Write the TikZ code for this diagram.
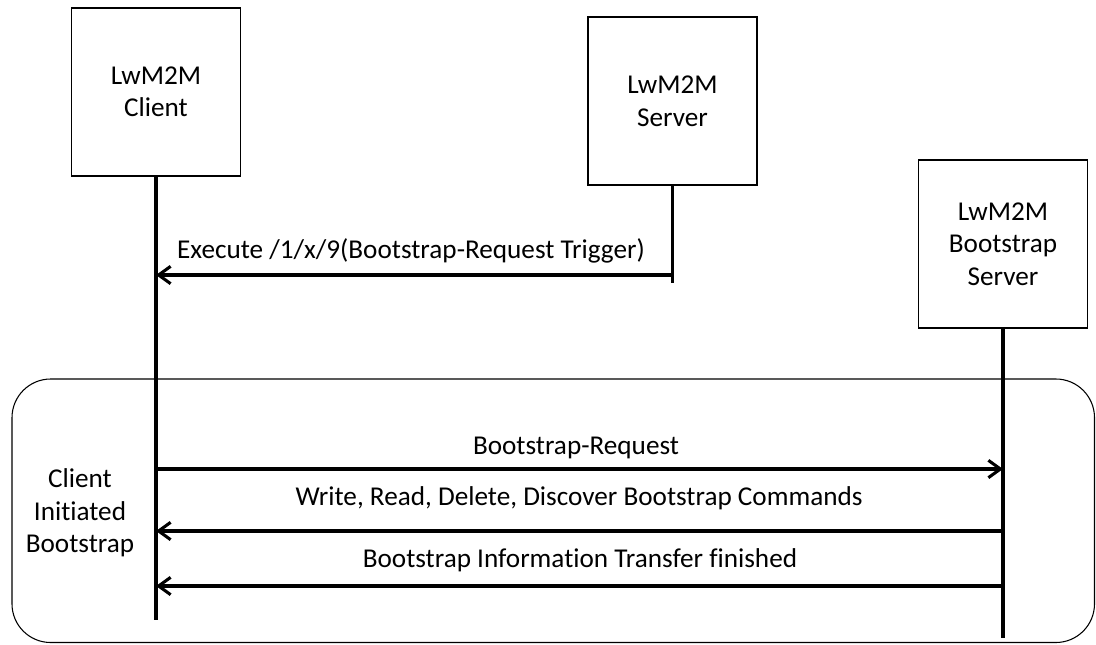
\documentclass[tikz,border=0pt]{standalone}
\usepackage{fontspec}
\setmainfont{Carlito}[Ligatures=NoCommon]
\usetikzlibrary{arrows.meta}
\newcommand{\lblfont}{\fontsize{20.4}{24.4}\selectfont}
\begin{document}
\begin{tikzpicture}[x=0.75pt,y=-0.75pt,
  actor/.style={draw=black, line width=0.9pt, minimum width=126.75pt, minimum height=126pt, align=center, inner sep=0pt, font=\lblfont},
  life/.style={line width=2.3pt},
  msg/.style={line width=2.3pt, -{Straight Barb[length=9pt,width=13pt,line width=2.3pt]}},
  lbl/.style={font=\lblfont, inner sep=0pt, anchor=base},
  group/.style={draw=black, line width=0.8pt, rounded corners=29pt}]
\useasboundingbox (0,0) rectangle (1096,644);
% group frame
\draw[group] (12,379) rectangle (1094.5,642.5);
\node[font=\lblfont, align=center, inner sep=0pt] (grp) at (80,513) {Client\\Initiated\\Bootstrap};
% actors
\node[actor] (client) at (156,92) {LwM2M\\Client};
\node[actor] (server) at (672.5,101) {LwM2M\\Server};
\node[actor] (bs) at (1003,244) {LwM2M\\Bootstrap\\Server};
% lifeline ends
\coordinate (cEnd) at (156,620);
\coordinate (sEnd) at (672.5,283);
\coordinate (bEnd) at (1003,638);
\draw[life] (client.south) -- (cEnd);
\draw[life] (server.south) -- (sEnd);
\draw[life] (bs.south) -- (bEnd);
% message anchor points
\coordinate (c1) at (156,275);
\coordinate (s1) at (672.5,275);
\coordinate (c2) at (156,469);
\coordinate (b2) at (1003,469);
\coordinate (c3) at (156,531);
\coordinate (b3) at (1003,531);
\coordinate (c4) at (156,586);
\coordinate (b4) at (1003,586);
% messages
\draw[msg] (s1) -- (c1);
\node[lbl] (m1) at (411,258) {Execute /1/x/9(Bootstrap-Request Trigger)};
\draw[msg] (c2) -- (b2);
\node[lbl] (m2) at (576,454) {Bootstrap-Request};
\draw[msg] (b3) -- (c3);
\node[lbl] (m3) at (579,505) {Write, Read, Delete, Discover Bootstrap Commands};
\draw[msg] (b4) -- (c4);
\node[lbl] (m4) at (580,567) {Bootstrap Information Transfer finished};
\end{tikzpicture}
\end{document}
